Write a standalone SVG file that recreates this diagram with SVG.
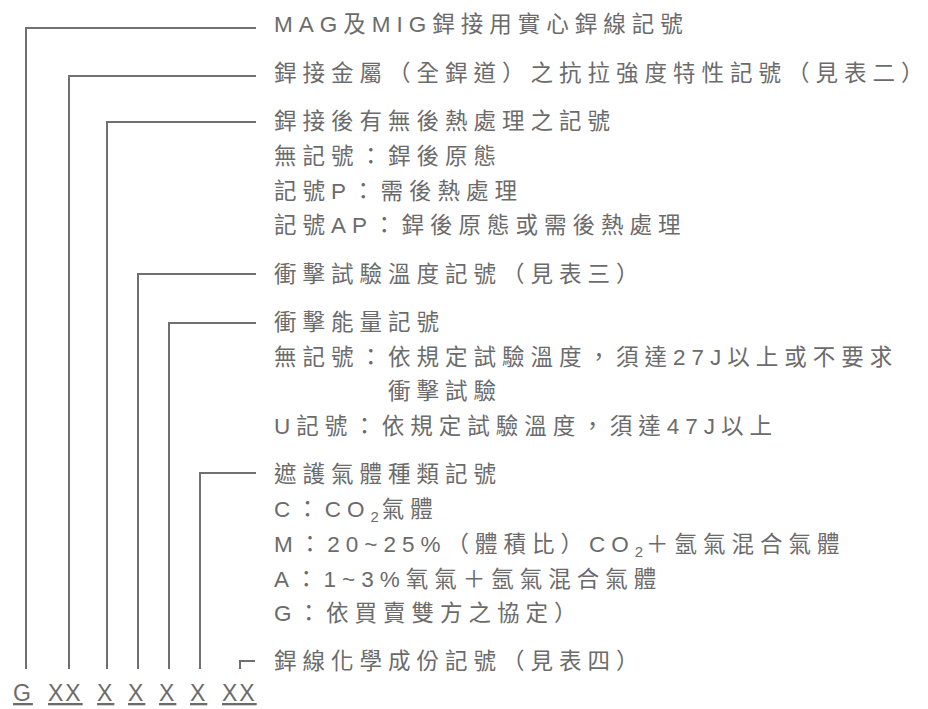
<svg xmlns="http://www.w3.org/2000/svg" width="928" height="709" viewBox="0 0 928 709">
<style>
.t{font-family:"Liberation Sans","Noto Sans CJK TC",sans-serif;font-size:22.5px;letter-spacing:6px;fill:#6b6b6b}
.s{font-size:15px;letter-spacing:3px}
.c{fill:none;stroke:#707070;stroke-width:2}
.code{font-family:"Liberation Sans",sans-serif;font-size:23px;letter-spacing:2px;fill:#6b6b6b;text-decoration:underline}
</style>
<rect width="928" height="709" fill="#fff"/>
<g id="connectors">
<polyline class="c" points="256,28 26,28 26,669"/>
<polyline class="c" points="256,76 69,76 69,669"/>
<polyline class="c" points="256,122 107,122 107,669"/>
<polyline class="c" points="256,274 138,274 138,669"/>
<polyline class="c" points="256,323 169,323 169,669"/>
<polyline class="c" points="256,473 200,473 200,669"/>
<polyline class="c" points="255,661 240,661 240,669"/>
</g>
<g id="n1"><text class="t" x="274" y="32">MAG及MIG銲接用實心銲線記號</text></g>
<g id="n2"><text class="t" x="274" y="81">銲接金屬（全銲道）之抗拉強度特性記號（見表二）</text></g>
<g id="n3">
<text class="t" x="274" y="129">銲接後有無後熱處理之記號</text>
<text class="t" x="274" y="164">無記號：銲後原態</text>
<text class="t" x="274" y="199">記號P：需後熱處理</text>
<text class="t" x="274" y="233">記號AP：銲後原態或需後熱處理</text>
</g>
<g id="n4"><text class="t" x="274" y="282">衝擊試驗溫度記號（見表三）</text></g>
<g id="n5">
<text class="t" x="274" y="330">衝擊能量記號</text>
<text class="t" x="274" y="365">無記號：依規定試驗溫度，須達27J以上或不要求</text>
<text class="t" x="388" y="399">衝擊試驗</text>
<text class="t" x="274" y="434">U記號：依規定試驗溫度，須達47J以上</text>
</g>
<g id="n6">
<text class="t" x="274" y="482">遮護氣體種類記號</text>
<text class="t" x="274" y="517">C：CO<tspan class="s" dy="5">2</tspan><tspan dy="-5">氣體</tspan></text>
<text class="t" x="274" y="552">M：20~25%（體積比）CO<tspan class="s" dy="5">2</tspan><tspan dy="-5">＋氬氣混合氣體</tspan></text>
<text class="t" x="274" y="587">A：1~3%氧氣＋氬氣混合氣體</text>
<text class="t" x="274" y="621">G：依買賣雙方之協定）</text>
</g>
<g id="n7"><text class="t" x="274" y="669">銲線化學成份記號（見表四）</text></g>
<g id="code">
<text class="code" x="13" y="701">G</text>
<text class="code" x="48" y="701">XX</text>
<text class="code" x="97" y="701">X</text>
<text class="code" x="128" y="701">X</text>
<text class="code" x="159" y="701">X</text>
<text class="code" x="190" y="701">X</text>
<text class="code" x="222" y="701">XX</text>
</g>
</svg>
